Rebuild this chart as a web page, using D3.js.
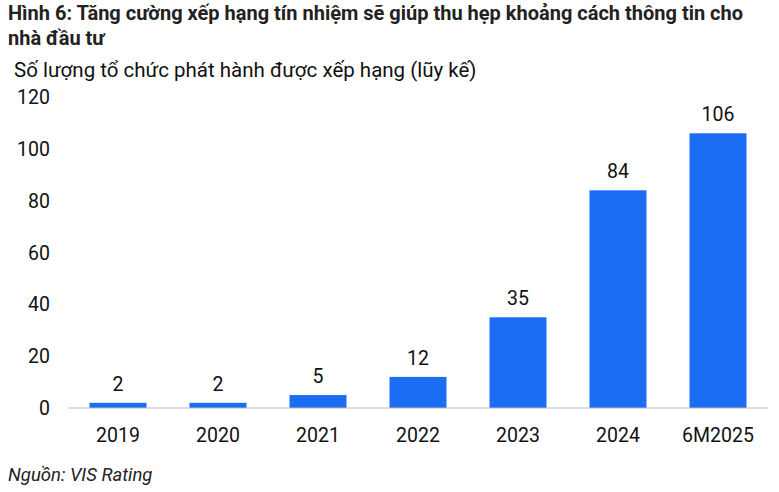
<!DOCTYPE html>
<html><head><meta charset="utf-8">
<script src="https://cdn.jsdelivr.net/npm/d3@7"></script>
<style>body{margin:0;background:#fff}text{font-family:Roboto,"Noto Sans",sans-serif}</style>
</head><body>
<svg width="779" height="492"></svg>
<script>
var years = ["2019","2020","2021","2022","2023","2024","6M2025"];
var counts = [2,2,5,12,35,84,106];
var yTicks = [0,20,40,60,80,100,120];

var svg = d3.select("svg");

var x = d3.scaleBand().domain(years).range([68,768]).paddingInner(0.43).paddingOuter(0.215);
var y = d3.scaleLinear().domain([0,120]).range([408,97]);

// title
svg.append("text").attr("x",8).attr("y",20).attr("font-size",20).attr("font-weight","bold").attr("fill","#222")
  .text("Hình 6: Tăng cường xếp hạng tín nhiệm sẽ giúp thu hẹp khoảng cách thông tin cho");
svg.append("text").attr("x",8).attr("y",45).attr("font-size",20).attr("font-weight","bold").attr("fill","#222")
  .text("nhà đầu tư");
svg.append("text").attr("x",14).attr("y",77).attr("font-size",20.5).attr("fill","#111")
  .text("Số lượng tổ chức phát hành được xếp hạng (lũy kế)");

svg.selectAll(".yt").data(yTicks).enter().append("text")
  .attr("x",50).attr("y",function(d){return y(d)+7}).attr("text-anchor","end")
  .attr("font-size",19.5).attr("fill","#111").text(function(d){return d});

svg.selectAll(".bar").data(counts).enter().append("rect")
  .attr("x",function(d,i){return x(years[i])}).attr("width",x.bandwidth())
  .attr("y",function(d){return y(d)}).attr("height",function(d){return y(0)-y(d)})
  .attr("fill","#1b6ef3");

svg.selectAll(".val").data(counts).enter().append("text")
  .attr("x",function(d,i){return x(years[i])+x.bandwidth()/2}).attr("y",function(d){return y(d)-12})
  .attr("text-anchor","middle").attr("font-size",19.5).attr("fill","#111").text(function(d){return d});

svg.append("line").attr("x1",68).attr("x2",768).attr("y1",y(0)).attr("y2",y(0)).attr("stroke","#bbb");

svg.selectAll(".xt").data(years).enter().append("text")
  .attr("x",function(d){return x(d)+x.bandwidth()/2}).attr("y",442)
  .attr("text-anchor","middle").attr("font-size",19.5).attr("fill","#111").text(function(d){return d});

svg.append("text").attr("x",8).attr("y",481).attr("font-size",18.5).attr("font-style","italic").attr("fill","#222")
  .text("Nguồn: VIS Rating");
</script>
</body></html>
